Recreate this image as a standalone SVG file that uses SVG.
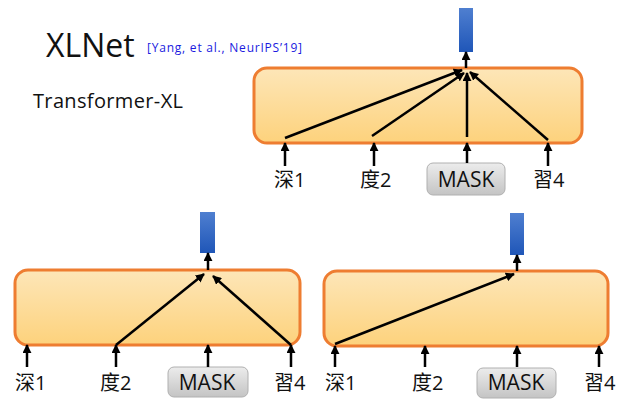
<svg xmlns="http://www.w3.org/2000/svg" width="618" height="401" viewBox="0 0 618 401">
<defs>
<linearGradient id="gBox" x1="0" y1="0" x2="0" y2="1"><stop offset="0" stop-color="#fde6b8"/><stop offset="1" stop-color="#fdd27c"/></linearGradient>
<linearGradient id="gBar" x1="0" y1="0" x2="0" y2="1"><stop offset="0" stop-color="#4f7fd0"/><stop offset="1" stop-color="#1f56b8"/></linearGradient>
<linearGradient id="gMask" x1="0" y1="0" x2="0" y2="1"><stop offset="0" stop-color="#ececec"/><stop offset="1" stop-color="#c4c4c4"/></linearGradient>
<marker id="ah" viewBox="0 0 10 10" refX="9" refY="5" markerWidth="9" markerHeight="9" markerUnits="userSpaceOnUse" orient="auto"><path d="M0,0 L10,5 L0,10 z" fill="#000"/></marker>
</defs>
<style>
.box{fill:url(#gBox);stroke:#ee7d31;stroke-width:3}
.bar{fill:url(#gBar)}
.mask{fill:url(#gMask);stroke:#b0b0b0;stroke-width:1}
.t{font-family:"Open Sans","Noto Sans CJK SC",sans-serif;fill:#111}
.lbl{font-size:20px}
.mt{font-size:21px}
.c line{stroke:#000;stroke-width:2.5;marker-end:url(#ah)}
</style>
<rect width="618" height="401" fill="#fff"/>
<text class="t" x="46" y="57" font-size="32">XLNet</text>
<text x="147" y="52" font-family="'Open Sans',sans-serif" font-size="12" fill="#1a1ae0" textLength="155">[Yang, et al., NeurIPS’19]</text>
<text class="t" x="33" y="108" font-size="20" textLength="150">Transformer-XL</text>

<g id="top">
<rect class="box" x="254" y="68" width="328" height="75" rx="13"/>
<rect class="bar" x="459" y="8" width="14" height="44"/>
<text class="t lbl" x="274" y="187">深1</text>
<text class="t lbl" x="360" y="187">度2</text>
<rect class="mask" x="427" y="163" width="78" height="32" rx="6"/>
<text class="t mt" x="466" y="187" text-anchor="middle">MASK</text>
<text class="t lbl" x="533" y="187">習4</text>
</g>
<g id="left">
<rect class="box" x="15" y="270" width="285" height="75" rx="13"/>
<rect class="bar" x="200" y="212" width="15" height="41"/>
<text class="t lbl" x="15" y="390">深1</text>
<text class="t lbl" x="100" y="390">度2</text>
<rect class="mask" x="168" y="367" width="80" height="30" rx="6"/>
<text class="t mt" x="207" y="390" text-anchor="middle">MASK</text>
<text class="t lbl" x="274" y="390">習4</text>
</g>
<g id="right">
<rect class="box" x="324" y="271" width="284" height="75" rx="13"/>
<rect class="bar" x="510" y="213" width="14" height="42"/>
<text class="t lbl" x="325" y="390">深1</text>
<text class="t lbl" x="412" y="390">度2</text>
<rect class="mask" x="477" y="368" width="79" height="30" rx="6"/>
<text class="t mt" x="516" y="390" text-anchor="middle">MASK</text>
<text class="t lbl" x="584" y="390">習4</text>
</g>

<g id="connectors" class="c">
<line x1="466" y1="68" x2="466" y2="52"/>
<line x1="285" y1="166" x2="285" y2="143"/>
<line x1="374" y1="166" x2="374" y2="143"/>
<line x1="467" y1="163" x2="467" y2="143"/>
<line x1="548" y1="166" x2="548" y2="143"/>
<line x1="285" y1="138" x2="462" y2="70"/>
<line x1="372" y1="136" x2="464" y2="73"/>
<line x1="467" y1="137" x2="467" y2="73"/>
<line x1="548" y1="140" x2="470" y2="72"/>

<line x1="208" y1="270" x2="208" y2="253"/>
<line x1="27" y1="367" x2="27" y2="345"/>
<line x1="116" y1="367" x2="116" y2="345"/>
<line x1="208" y1="367" x2="208" y2="345"/>
<line x1="291" y1="367" x2="291" y2="345"/>
<line x1="116" y1="345" x2="204" y2="274"/>
<line x1="291" y1="345" x2="213" y2="276"/>

<line x1="517" y1="271" x2="517" y2="255"/>
<line x1="335" y1="367" x2="335" y2="346"/>
<line x1="425" y1="367" x2="425" y2="346"/>
<line x1="517" y1="367" x2="517" y2="346"/>
<line x1="599" y1="367" x2="599" y2="346"/>
<line x1="335" y1="344" x2="514" y2="274"/>
</g>
</svg>
